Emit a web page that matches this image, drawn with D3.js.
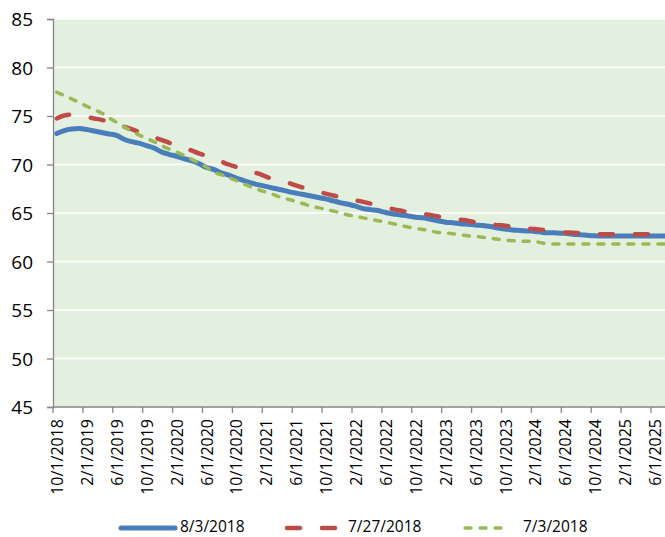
<!DOCTYPE html>
<html><head><meta charset="utf-8">
<script src="https://cdn.jsdelivr.net/npm/d3@7"></script>
<style>body{margin:0;background:#fff}svg{display:block}text{font-family:"Open Sans",sans-serif;fill:#000}</style>
</head><body>
<script>
const seriesNames = ["8/3/2018", "7/27/2018", "7/3/2018"];
const seriesColors = ["#4A7EBB", "#BE4B48", "#98B954"];
const tickLabels = ["10/1/2018","2/1/2019","6/1/2019","10/1/2019","2/1/2020","6/1/2020","10/1/2020","2/1/2021","6/1/2021","10/1/2021","2/1/2022","6/1/2022","10/1/2022","2/1/2023","6/1/2023","10/1/2023","2/1/2024","6/1/2024","10/1/2024","2/1/2025","6/1/2025"];
const yTicks = [45,50,55,60,65,70,75,80,85];
// monthly values from 10/1/2018
const aug3 = [73.2,73.5,73.65,73.7,73.6,73.45,73.3,73.15,73.0,72.6,72.35,72.2,71.95,71.7,71.3,71.05,70.85,70.6,70.4,70.1,69.7,69.5,69.15,68.9,68.6,68.35,68.1,67.9,67.75,67.55,67.4,67.2,67.05,66.9,66.75,66.6,66.45,66.25,66.05,65.9,65.7,65.45,65.35,65.25,65.05,64.9,64.8,64.7,64.56,64.5,64.35,64.2,64.05,64.0,63.9,63.85,63.75,63.7,63.6,63.45,63.35,63.25,63.2,63.15,63.1,63.0,62.97,62.95,62.9,62.8,62.76,62.7,62.65,62.63,62.63,62.63,62.63,62.63,62.63,62.63,62.63,62.63,62.63,62.63];
const jul27 = [74.75,75.05,75.15,75.1,74.9,74.75,74.6,74.4,74.15,73.9,73.65,73.35,73.1,72.8,72.55,72.25,71.95,71.7,71.45,71.15,70.9,70.6,70.3,70.0,69.75,69.5,69.25,69.05,68.75,68.45,68.25,68.1,67.85,67.6,67.35,67.15,67.0,66.8,66.65,66.45,66.3,66.15,65.95,65.75,65.6,65.4,65.25,65.1,65.0,64.9,64.8,64.65,64.5,64.4,64.3,64.2,64.05,63.95,63.85,63.75,63.7,63.55,63.45,63.4,63.35,63.25,63.1,63.05,63.0,62.97,62.93,62.9,62.85,62.8,62.8,62.8,62.8,62.8,62.8,62.8,62.8,62.8,62.8,62.8];
const jul3 = [77.45,77.1,76.75,76.4,76.0,75.65,75.3,74.8,74.35,73.9,73.45,73.05,72.7,72.35,71.95,71.6,71.3,70.95,70.55,70.15,69.75,69.2,68.95,68.65,68.35,68.0,67.7,67.4,67.15,66.9,66.6,66.4,66.2,65.95,65.7,65.55,65.35,65.2,65.0,64.8,64.65,64.5,64.35,64.2,64.05,63.9,63.7,63.55,63.4,63.3,63.15,63.0,62.95,62.85,62.75,62.65,62.6,62.5,62.4,62.3,62.2,62.15,62.1,62.1,62.05,61.9,61.8,61.8,61.8,61.8,61.8,61.8,61.8,61.8,61.8,61.8,61.8,61.8,61.8,61.8,61.8,61.8,61.8,61.8];

const W = 665, H = 537;
const L = 53, T = 19, B = 407, monthW = 7.475;
const months = d3.range(aug3.length);
const svg = d3.select("body").append("svg").attr("width", W).attr("height", H);

const x = d3.scaleBand().domain(months).range([L, L + months.length * monthW]).paddingInner(0).paddingOuter(0);
const y = d3.scaleLinear().domain([45, 85]).range([B, T]);

svg.append("rect").attr("x", L).attr("y", T).attr("width", W - L).attr("height", B - T).attr("fill", "#E3F0E0");

svg.append("g").selectAll("line").data(yTicks.filter(d => d > 45)).join("line")
  .attr("x1", L).attr("x2", W).attr("y1", d => y(d)).attr("y2", d => y(d))
  .attr("stroke", "#fff").attr("stroke-width", 1.5);

// y axis
const yAxis = d3.axisLeft(y).tickValues(yTicks).tickSize(6).tickPadding(14);
const gy = svg.append("g").attr("transform", `translate(${L},0)`).call(yAxis);
gy.select(".domain").attr("stroke", "#868686").attr("stroke-width", 1.3);
gy.selectAll(".tick line").attr("stroke", "#868686").attr("stroke-width", 1.3);
gy.selectAll(".tick text").style("font-size", "19px").attr("font-family", null).attr("dy", "0.36em");

// x axis
const tickIdx = tickLabels.map((_, i) => i * 4);
const gx = svg.append("g");
gx.append("line").attr("x1", L).attr("x2", W).attr("y1", B).attr("y2", B).attr("stroke", "#868686").attr("stroke-width", 1.3);
gx.selectAll("line.t").data(tickIdx).join("line").attr("class", "t")
  .attr("x1", d => x(d)).attr("x2", d => x(d)).attr("y1", B).attr("y2", B + 6)
  .attr("stroke", "#868686").attr("stroke-width", 1.3);
gx.selectAll("text").data(tickIdx).join("text")
  .attr("transform", d => `translate(${x(d) + x.bandwidth() / 2 + 0.5},${B + 12}) rotate(-90)`)
  .attr("text-anchor", "end").attr("dy", "0.36em").style("font-size", "16px")
  .text((d, i) => tickLabels[i]);

// lines
const line = d3.line().x((d, i) => x(i) + x.bandwidth() / 2).y(d => y(d)).curve(d3.curveMonotoneX);
const styles = [
  {w: 5, dash: null, cap: "round"},
  {w: 4.5, dash: "13,22", cap: "round"},
  {w: 3.5, dash: "6,9", cap: "round"}
];
svg.append("clipPath").attr("id", "c").append("rect").attr("x", L).attr("y", 0).attr("width", W - L).attr("height", B);
const gl = svg.append("g").attr("clip-path", "url(#c)");
[aug3, jul27, jul3].forEach((s, i) => {
  gl.append("path").datum(s).attr("d", line).attr("fill", "none")
    .attr("stroke", seriesColors[i]).attr("stroke-width", styles[i].w)
    .attr("stroke-dasharray", styles[i].dash).attr("stroke-linecap", styles[i].cap).attr("stroke-linejoin", "round");
});

// legend
const legendPos = [{x1: 121, x2: 175, tx: 180}, {x1: 287, x2: 336, tx: 348}, {x1: 465, x2: 506, tx: 523}];
const ly = 528;
seriesNames.forEach((n, i) => {
  const p = legendPos[i];
  svg.append("line").attr("x1", p.x1).attr("x2", p.x2).attr("y1", ly).attr("y2", ly)
    .attr("stroke", seriesColors[i]).attr("stroke-width", styles[i].w)
    .attr("stroke-dasharray", styles[i].dash).attr("stroke-linecap", styles[i].cap);
  svg.append("text").attr("x", p.tx).attr("y", 531.5).style("font-size", "15.5px").text(n);
});
</script>
</body></html>
